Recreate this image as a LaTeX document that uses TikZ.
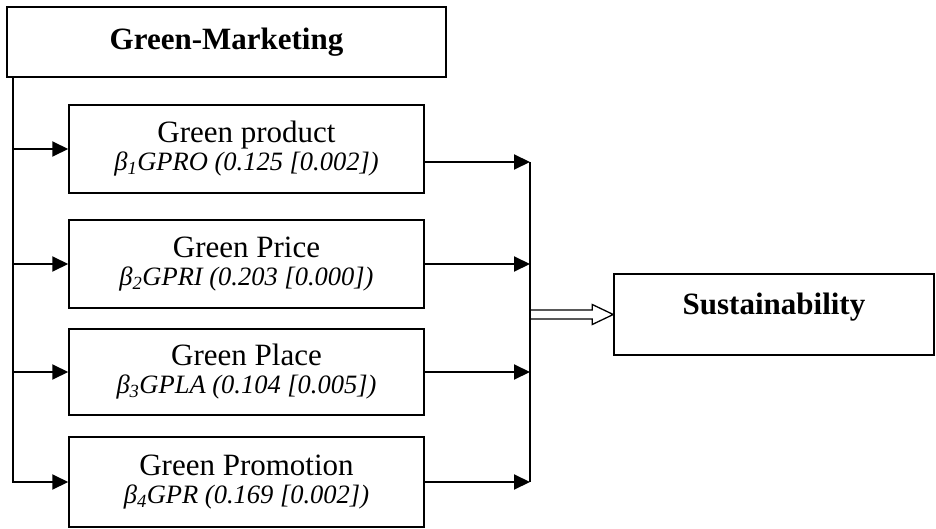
\documentclass[tikz,border=0pt]{standalone}
\usepackage{fontspec}
\setmainfont{Liberation Serif}
\usetikzlibrary{arrows.meta}
\usetikzlibrary{calc}

\tikzset{
    box/.style={draw, line width=1.5pt, inner sep=0pt, align=center},
    mixbox/.style={box, minimum width=355pt, minimum height=88pt, font=\fontsize{31}{28}\selectfont},
    headbox/.style={box, font=\fontsize{31}{36}\selectfont\bfseries},
    link/.style={line width=2pt, -{Triangle[length=16pt,width=15pt]}},
}
\newcommand{\coef}[1]{{\fontsize{26.5}{30}\selectfont\itshape #1}}

\begin{document}
\begin{tikzpicture}[x=1pt, y=-1pt]
    \useasboundingbox (0,0) rectangle (936,529);
    % main constructs
    \node[headbox, minimum width=439pt, minimum height=70pt] (gm) at (226.5,42) {Green-Marketing};
    \node[headbox, minimum width=320pt, minimum height=81pt, text height=20pt, text depth=20pt] (sust) at (774,314.5) {Sustainability};
    % marketing mix
    \node[mixbox] (prod) at (246.5,149) {Green product\\\coef{β\textsubscript{1}GPRO (0.125 [0.002])}};
    \node[mixbox] (price) at (246.5,264) {Green Price\\\coef{β\textsubscript{2}GPRI (0.203 [0.000])}};
    \node[mixbox, minimum height=86pt] (place) at (246.5,372) {Green Place\\\coef{β\textsubscript{3}GPLA (0.104 [0.005])}};
    \node[mixbox, minimum height=90pt] (promo) at (246.5,482) {Green Promotion\\\coef{β\textsubscript{4}GPR (0.169 [0.002])}};
    % left bus
    \coordinate (lb) at ([xshift=7pt]gm.south west);
    \draw[link] (lb) |- (promo.west);
    \draw[link] (lb |- prod.west) -- (prod.west);
    \draw[link] (lb |- price.west) -- (price.west);
    \draw[link] (lb |- place.west) -- (place.west);
    % right bus
    \coordinate (rb) at (530,162);
    \draw[link] ([yshift=-13pt]prod.east) -- (rb);
    \draw[link] (price.east) -- (price.east -| rb);
    \draw[link] (place.east) -- (place.east -| rb);
    \draw[link] (promo.east) -- (promo.east -| rb);
    \draw[line width=2pt] (rb) -- (rb |- promo.east);
    % hollow arrow into sustainability
    \coordinate (hub) at (rb |- sust.west);
    \draw[line width=1.3pt, line join=miter]
        ([yshift=4.5pt]hub) -- ([xshift=-21pt,yshift=4.5pt]sust.west)
        -- ([xshift=-21pt,yshift=10pt]sust.west) -- (sust.west)
        -- ([xshift=-21pt,yshift=-10pt]sust.west)
        -- ([xshift=-21pt,yshift=-4.5pt]sust.west) -- ([yshift=-4.5pt]hub);
\end{tikzpicture}
\end{document}
